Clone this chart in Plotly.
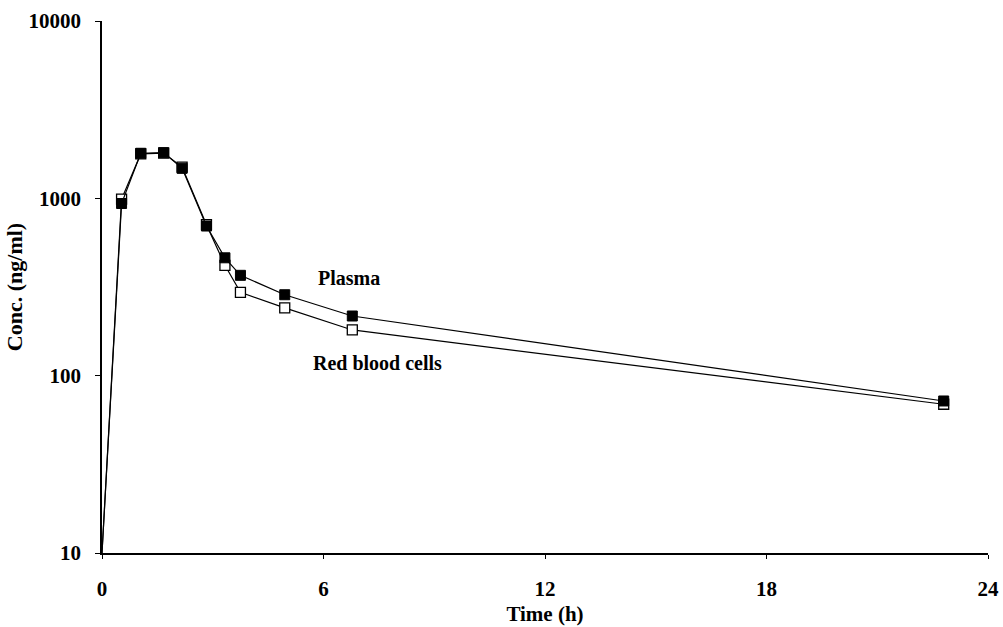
import plotly.graph_objects as go

time_h = [0, 0.53, 1.05, 1.67, 2.17, 2.83, 3.33, 3.75, 4.95, 6.78, 22.8]
plasma = [10, 935, 1795, 1810, 1476, 698, 462, 368, 286, 217, 72]
rbc = [10, 990, 1780, 1800, 1500, 710, 419, 295, 241, 181, 69]

x_ticks = [0, 6, 12, 18, 24]
y_ticks = [10, 100, 1000, 10000]
y_ticktext = ["10", "100", "1000", "10000"]

FONT = "Liberation Serif"
msize = [0] + [10] * (len(time_h) - 1)

fig = go.Figure()
fig.add_trace(go.Scatter(
    x=time_h, y=rbc, mode="lines+markers", name="Red blood cells",
    line=dict(color="#000000", width=1.2),
    marker=dict(symbol="square", size=msize, color="#ffffff", opacity=1,
                line=dict(color="#000000", width=1.3)),
))
fig.add_trace(go.Scatter(
    x=time_h, y=plasma, mode="lines+markers", name="Plasma",
    line=dict(color="#000000", width=1.2),
    marker=dict(symbol="square", size=msize, color="#000000", opacity=1,
                line=dict(color="#000000", width=1)),
))

fig.add_annotation(x=6.69, y=2.5505, text="<b>Plasma</b>", showarrow=False,
                   font=dict(family=FONT, size=20, color="black"))
fig.add_annotation(x=7.45, y=2.071, text="<b>Red blood cells</b>", showarrow=False,
                   font=dict(family=FONT, size=20, color="black"))

fig.update_layout(
    width=1003, height=627,
    margin=dict(l=102, r=15, t=21, b=74),
    paper_bgcolor="white", plot_bgcolor="white",
    showlegend=False, hovermode=False,
    font=dict(family=FONT, size=20, color="black"),
)
fig.update_xaxes(
    range=[0, 24], tickvals=x_ticks, ticktext=[f"<b>{v}</b>" for v in x_ticks],
    showgrid=False, zeroline=False, showline=True, linecolor="black", linewidth=1.5,
    ticks="outside", ticklen=4, tickcolor="black", ticklabelstandoff=12,
    tickfont=dict(family=FONT, size=21), automargin=False,
    title=dict(text="<b>Time (h)</b>", font=dict(family=FONT, size=21), standoff=6),
)
fig.update_yaxes(
    type="log", range=[1, 4], tickvals=y_ticks, ticktext=[f"<b>{t}</b>" for t in y_ticktext],
    showgrid=False, zeroline=False, showline=True, linecolor="black", linewidth=1.5,
    ticks="outside", ticklen=5, tickcolor="black", ticklabelstandoff=10,
    tickfont=dict(family=FONT, size=21), automargin=False,
    title=dict(text="<b>Conc. (ng/ml)</b>", font=dict(family=FONT, size=22), standoff=0),
)

fig.write_html(
    "out.html",
    config={"displayModeBar": False},
    post_script="document.body.style.margin='0';document.body.style.padding='0';document.body.style.overflow='hidden';",
)
